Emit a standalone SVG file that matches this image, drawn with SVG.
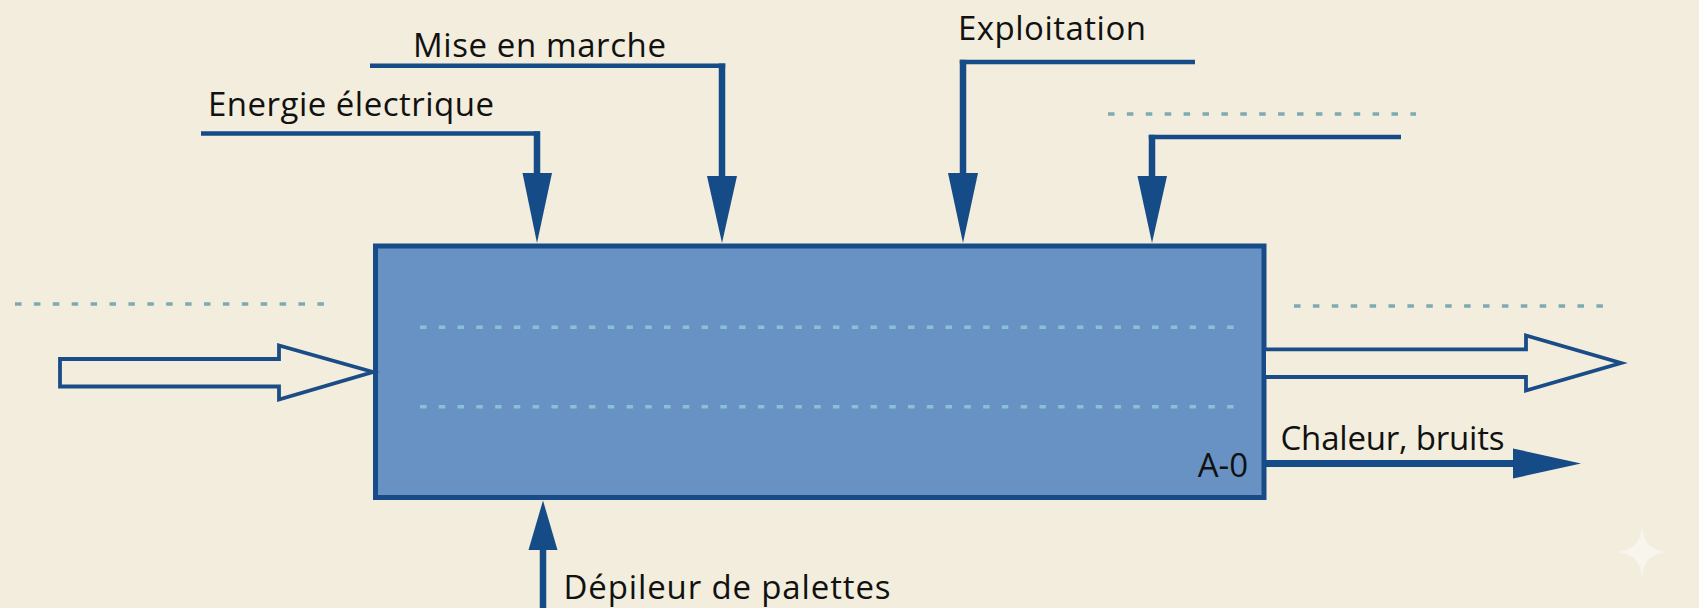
<svg xmlns="http://www.w3.org/2000/svg" width="1699" height="608" viewBox="0 0 1699 608">
  <defs>
    <style>
      .bg { fill: #f2eddc; }
      .box { fill: #6892c4; stroke: #184c88; stroke-width: 5; }
      .hz { fill: none; stroke: #154b87; stroke-width: 4.5; }
      .vt { fill: none; stroke: #154b87; stroke-width: 6.5; }
      .head { fill: #154b87; stroke: none; }
      .hollow { fill: #f2eddc; stroke: #1a4d87; stroke-width: 3.8; stroke-linejoin: miter; }
      .dotout { fill: none; stroke: #7eaab2; stroke-width: 3.5; stroke-dasharray: 6.5 12.4; }
      .dotin { fill: none; stroke: #86c1d4; stroke-width: 3.5; stroke-dasharray: 6.5 12.27; }
      .lbl { font-family: "Open Sans", "Noto Sans", "Liberation Sans", sans-serif; font-size: 33px; fill: #111111; }
    </style>
  </defs>
  <rect class="bg" x="0" y="0" width="1699" height="608"/>

  <g id="guides">
    <line class="dotout" x1="15" y1="304" x2="324" y2="304"/>
    <line class="dotout" x1="1294" y1="306" x2="1606" y2="306"/>
    <line class="dotout" x1="1108" y1="114" x2="1416" y2="114"/>
  </g>

  <g id="node-A0">
    <rect class="box" x="375.5" y="246" width="888.5" height="251.5"/>
    <line class="dotin" x1="420" y1="327.3" x2="1236" y2="327.3"/>
    <line class="dotin" x1="420" y1="406.7" x2="1236" y2="406.7"/>
    <text class="lbl" x="1248" y="477" text-anchor="end">A-0</text>
  </g>

  <g id="connectors">
    <!-- Energie électrique -->
    <g id="c-energie">
      <line class="hz" x1="201" y1="133.5" x2="540" y2="133.5"/>
      <line class="vt" x1="537" y1="131.3" x2="537" y2="180"/>
      <polygon class="head" points="522.5,173 552,173 537,243"/>
    </g>
    <!-- Mise en marche -->
    <g id="c-mise">
      <line class="hz" x1="370" y1="65.7" x2="725.2" y2="65.7"/>
      <line class="vt" x1="722" y1="63.5" x2="722" y2="182"/>
      <polygon class="head" points="707,176 737,176 722,243"/>
    </g>
    <!-- Exploitation -->
    <g id="c-exploitation">
      <line class="hz" x1="959.8" y1="62" x2="1195" y2="62"/>
      <line class="vt" x1="963" y1="59.8" x2="963" y2="180"/>
      <polygon class="head" points="948,173 978,173 963,243"/>
    </g>
    <!-- fourth control -->
    <g id="c-control4">
      <line class="hz" x1="1148.8" y1="137" x2="1401" y2="137"/>
      <line class="vt" x1="1152" y1="134.8" x2="1152" y2="182"/>
      <polygon class="head" points="1137.5,176 1167,176 1152,243"/>
    </g>
    <!-- input hollow arrow -->
    <g id="c-input">
      <polygon class="hollow" points="60,359 279,359 279,345.5 373,372 279,399.5 279,386.5 60,386.5"/>
    </g>
    <!-- output hollow arrow -->
    <g id="c-output">
      <polyline class="hollow" points="1266,349.3 1526,349.3 1526,335.5 1621,363 1526,390.5 1526,377 1266,377"/>
    </g>
    <!-- Chaleur, bruits -->
    <g id="c-chaleur">
      <line stroke="#154b87" stroke-width="7" x1="1266" y1="463.5" x2="1516" y2="463.5"/>
      <polygon class="head" points="1513,448.5 1581,463.5 1513,478.5"/>
    </g>
    <!-- Dépileur de palettes (mechanism) -->
    <g id="c-mechanism">
      <line class="vt" x1="543" y1="545" x2="543" y2="608"/>
      <polygon class="head" points="543,500.5 557.5,550 528.5,550"/>
    </g>
  </g>

  <g id="labels">
    <text class="lbl" x="413" y="57" textLength="253">Mise en marche</text>
    <text class="lbl" x="208" y="115.5" textLength="286">Energie électrique</text>
    <text class="lbl" x="958" y="40" textLength="188">Exploitation</text>
    <text class="lbl" x="1280.5" y="450" textLength="224">Chaleur, bruits</text>
    <text class="lbl" x="563.5" y="599" textLength="327">Dépileur de palettes</text>
  </g>

  <g id="watermark">
    <path d="M1642,528 C1645,544 1650,549 1666,552 C1650,555 1645,560 1642,576 C1639,560 1634,555 1618,552 C1634,549 1639,544 1642,528 Z" fill="#f8f5ec"/>
  </g>
</svg>
